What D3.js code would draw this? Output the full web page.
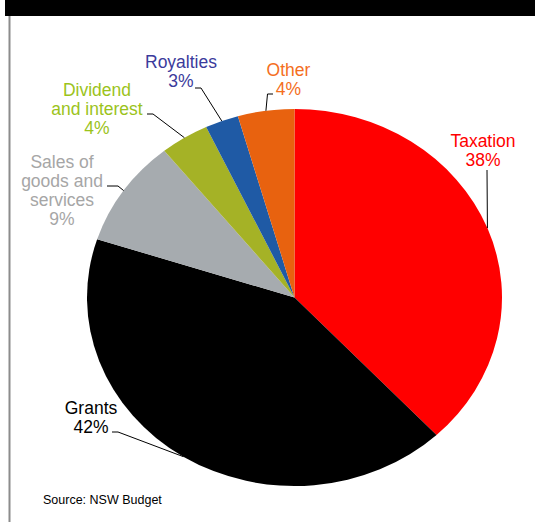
<!DOCTYPE html>
<html>
<head>
<meta charset="utf-8">
<script src="https://cdn.jsdelivr.net/npm/d3@7"></script>
<style>
  body { margin: 0; background: #fff; }
  svg { display: block; }
</style>
</head>
<body>
<div id="main"></div>
<script>
// Data (share of revenue, %)
var categories = ["Taxation", "Grants", "Sales of goods and services", "Dividend and interest", "Royalties", "Other"];
var values = [38.0, 42.0, 9.2, 3.8, 2.6, 4.4];
var labelLines = [["Taxation"], ["Grants"], ["Sales of", "goods and", "services"], ["Dividend", "and interest"], ["Royalties"], ["Other"]];
var sourceText = "Source: NSW Budget";

// Colours
var sliceColors = ["#ff0000", "#000000", "#a6abaf", "#a5b226", "#1f5aa5", "#e8620f"];
var labelColors = ["#ff0000", "#000000", "#a6a6a6", "#9bc31b", "#3b3b9c", "#f46e1d"];

// Layout
var width = 535, height = 522;
var cx = 294.5, cy = 297.5, rx = 207.5, ry = 188.5;
var ky = ry / rx;
var lineGap = 19;
// label anchor (center x, first baseline) and leader start / elbow
var labelPos = [
  { x: 483, y: 147, leader: [[487, 170], [487, 170]] },
  { x: 91, y: 414, leader: [[112, 432], [118, 432]] },
  { x: 62, y: 168, leader: [[107, 186], [118, 186]] },
  { x: 97, y: 96, leader: [[147, 114], [153, 114]] },
  { x: 181, y: 68, leader: [[195, 88], [201, 88]] },
  { x: 288.5, y: 76, leader: [[273, 94], [267.5, 94]] }
];

var svg = d3.select("#main").append("svg")
  .attr("width", width)
  .attr("height", height);

// Top black bar and left rule
svg.append("rect").attr("x", 5).attr("y", 0).attr("width", width - 5).attr("height", 16).attr("fill", "#000");
svg.append("line").attr("x1", 9.5).attr("x2", 9.5).attr("y1", 16).attr("y2", height)
  .attr("stroke", "#8c8c8c").attr("stroke-width", 2);

// Pie (drawn as circle then squeezed vertically)
var pie = d3.pie().sort(null).value(function(d) { return d; });
var arcs = pie(values);
var arc = d3.arc().innerRadius(0).outerRadius(rx);
var edge = d3.arc().innerRadius(rx).outerRadius(rx);

var gPie = svg.append("g").attr("transform", "translate(" + cx + "," + cy + ") scale(1," + ky + ")");
gPie.selectAll("path").data(arcs).enter().append("path")
  .attr("d", arc)
  .attr("fill", function(d, i) { return sliceColors[i]; });

// Leader lines: from label elbow to outer edge at slice mid-angle
var line = d3.line();
arcs.forEach(function(a, i) {
  var p = edge.centroid(a);
  var end = [cx + p[0], cy + p[1] * ky];
  var pts = labelPos[i].leader.concat([end]);
  svg.append("path").attr("d", line(pts))
    .attr("fill", "none").attr("stroke", "#000").attr("stroke-width", 1);
});

// Labels
arcs.forEach(function(a, i) {
  var lines = labelLines[i].concat([Math.round(values[i]) + "%"]);
  var t = svg.append("text")
    .attr("text-anchor", "middle")
    .attr("font-family", "'Liberation Sans', Arial, sans-serif")
    .attr("font-size", "17.5px")
    .attr("fill", labelColors[i]);
  lines.forEach(function(s, j) {
    t.append("tspan").attr("x", labelPos[i].x).attr("y", labelPos[i].y + j * lineGap).text(s);
  });
});

// Source
svg.append("text")
  .attr("x", 43).attr("y", 504)
  .attr("font-family", "'Liberation Sans', Arial, sans-serif")
  .attr("font-size", "12.5px")
  .attr("fill", "#000")
  .text(sourceText);
</script>
</body>
</html>
